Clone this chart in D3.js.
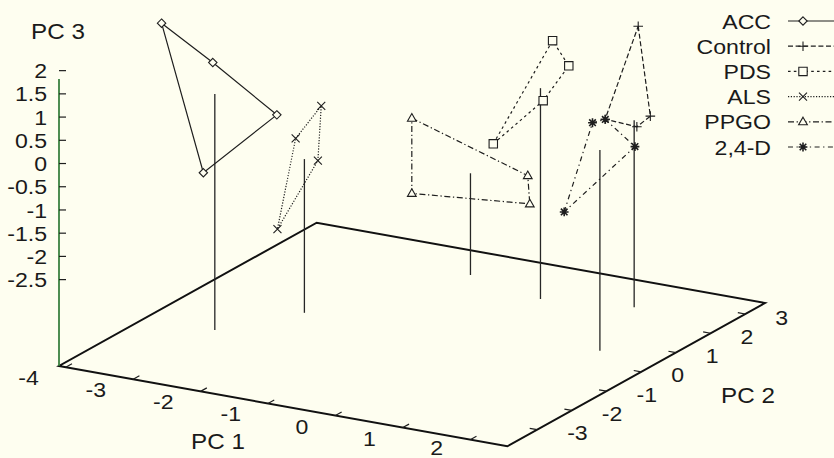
<!DOCTYPE html>
<html>
<head>
<meta charset="utf-8">
<script src="https://cdn.jsdelivr.net/npm/d3@7"></script>
<style>
  html, body { margin: 0; padding: 0; background: #fefef0; }
  svg { display: block; }
  text { font-family: "Liberation Sans", Arial, Helvetica, sans-serif; fill: #1a1a1a; }
</style>
</head>
<body>
<svg id="chart" width="834" height="458"></svg>
<script>
// ---- data: principal component scores (PC1, PC2, PC3) per treatment ----
const seriesNames = ["ACC", "Control", "PDS", "ALS", "PPGO", "2,4-D"];

const accScores     = [[-3.87, -1.35, 2.04], [-3.11, -1.35, 1.39], [-2.16, -1.35, 0.51], [-3.25, -1.35, -1.02]];
const controlScores = [[1.23, 2.48, 1.71], [1.41, 2.48, -0.18], [1.21, 2.48, -0.46], [0.74, 2.48, -0.42]];
const pdsScores     = [[-0.75, 2.15, -1.20], [0.13, 2.15, 1.25], [0.37, 2.15, 0.77], [-0.01, 2.15, -0.08]];
const alsScores     = [[-2.55, -0.05, -0.64], [-2.17, -0.05, 0.16], [-2.22, -0.05, -1.03], [-2.82, -0.05, -2.66]];
const ppgoScores    = [[-2.19, 2.60, -1.21], [-0.47, 2.60, -2.00], [-0.44, 2.60, -2.60], [-2.19, 2.60, -2.83]];
const d24Scores     = [[1.13, 0.54, -1.51], [1.55, 0.54, 0.52], [1.74, 0.54, 0.64], [2.18, 0.54, 0.17]];

// group centres, drawn as impulses down to the base plane
const groupCentres = [[-3.08, -1.35, 0.72], [1.17, 2.48, -0.33], [-0.05, 2.15, 0.18],
                      [-2.42, -0.05, -1.05], [-1.32, 2.60, -2.17], [1.66, 0.54, -0.04]];

const pc1Ticks = [-4, -3, -2, -1, 0, 1, 2];
const pc2Ticks = [-3, -2, -1, 0, 1, 2, 3];
const pc3Ticks = [2, 1.5, 1, 0.5, 0, -0.5, -1, -1.5, -2, -2.5];

const pc1Domain = [-4.1, 2.55];
const pc2Domain = [-3.86, 3.57];
const pc3Domain = [-4.36, 1.82];

// ---- view ----
const svg = d3.select("#chart");
const W = 834, H = 458;
svg.append("rect").attr("width", W).attr("height", H).attr("fill", "#fefef0");

const origin = [59, 366];             // front-left corner of the base
const e1 = [448.3, 80.3];             // screen span of the PC1 axis
const e2 = [257.7, -143.3];           // screen span of the PC2 axis
const zPerUnit = 46.44;

const xS = d3.scaleLinear().domain(pc1Domain).range([0, 1]);
const yS = d3.scaleLinear().domain(pc2Domain).range([0, 1]);
const zS = d3.scaleLinear().domain(pc3Domain)
  .range([0, -(pc3Domain[1] - pc3Domain[0]) * zPerUnit]);

function project(p1, p2, p3) {
  const u = xS(p1), v = yS(p2);
  return [origin[0] + u * e1[0] + v * e2[0],
          origin[1] + u * e1[1] + v * e2[1] + zS(p3)];
}

// text with the slightly wide lettering of the plot's font
const stretch = 1.1;
function label(g, x, y, str, size, anchor, dy) {
  return g.append("text")
    .attr("transform", `translate(${x},${y}) scale(${stretch},1)`)
    .attr("dy", dy == null ? "0.36em" : dy)
    .attr("text-anchor", anchor)
    .attr("font-size", size)
    .text(str);
}

const ink = "#1e1e1e";
const x0 = pc1Domain[0], x1 = pc1Domain[1];
const y0 = pc2Domain[0], y1 = pc2Domain[1];
const zb = pc3Domain[0];

// base frame
const baseCorners = [[x0, y0], [x1, y0], [x1, y1], [x0, y1]].map(c => project(c[0], c[1], zb));
svg.append("path")
  .attr("d", d3.line()(baseCorners) + "Z")
  .attr("fill", "none").attr("stroke", "#111").attr("stroke-width", 2)
  .attr("stroke-linejoin", "miter");

// vertical PC3 axis
const zAxisBottom = project(x0, y0, zb);
const zAxisTop = project(x0, y0, pc3Domain[1]);
svg.append("line")
  .attr("x1", zAxisBottom[0]).attr("y1", zAxisBottom[1])
  .attr("x2", zAxisTop[0]).attr("y2", zAxisTop[1])
  .attr("stroke", "#2f7a36").attr("stroke-width", 1.7);

const zTickG = svg.append("g");
pc3Ticks.forEach(t => {
  const p = project(x0, y0, t);
  zTickG.append("line")
    .attr("x1", p[0]).attr("y1", p[1]).attr("x2", p[0] + 7).attr("y2", p[1])
    .attr("stroke", ink).attr("stroke-width", 1.2);
  label(zTickG, p[0] - 12, p[1], t, 21, "end");
});

// PC1 axis ticks (front-left edge); labels kept inside the bottom edge
const xTickG = svg.append("g");
pc1Ticks.forEach(t => {
  const a = project(t, y0, zb), b = project(t, y0 + 0.18, zb);
  xTickG.append("line")
    .attr("x1", a[0]).attr("y1", a[1]).attr("x2", b[0]).attr("y2", b[1])
    .attr("stroke", ink).attr("stroke-width", 1.2);
  label(xTickG, a[0] - 27, Math.min(a[1] + 10.5, H - 11), t, 21, "end");
});

// PC2 axis ticks (front-right edge)
const yTickG = svg.append("g");
pc2Ticks.forEach(t => {
  const a = project(x1, t, zb), b = project(x1 - 0.11, t, zb);
  yTickG.append("line")
    .attr("x1", a[0]).attr("y1", a[1]).attr("x2", b[0]).attr("y2", b[1])
    .attr("stroke", ink).attr("stroke-width", 1.2);
  label(yTickG, a[0] + 30, a[1] + 3, t, 21, "start");
});

// axis titles
label(svg, 58, 39, "PC 3", 22, "middle", "0");
label(svg, 218, 449, "PC 1", 22, "middle", "0");
label(svg, 748, 403, "PC 2", 22, "middle", "0");

// ---- series ----
const markers = {
  diamond: r => `M0,${-r}L${r},0L0,${r}L${-r},0Z`,
  plus: r => `M${-r},0H${r}M0,${-r}V${r}`,
  square: r => `M${-r},${-r}H${r}V${r}H${-r}Z`,
  cross: r => `M${-r},${-r}L${r},${r}M${-r},${r}L${r},${-r}`,
  triangle: r => `M0,${-r}L${r * 0.95},${r * 0.65}L${-r * 0.95},${r * 0.65}Z`,
  star: r => `M${-r},0H${r}M0,${-r}V${r}M${-r * 0.75},${-r * 0.75}L${r * 0.75},${r * 0.75}M${-r * 0.75},${r * 0.75}L${r * 0.75},${-r * 0.75}`
};
const openMarker = m => m === "diamond" || m === "square" || m === "triangle";

const series = [
  { name: seriesNames[0], pts: accScores,     dash: null,            marker: "diamond",  r: 4.2, sw: 1.1 },
  { name: seriesNames[1], pts: controlScores, dash: "5,2.6",         marker: "plus",     r: 4.8, sw: 1.1 },
  { name: seriesNames[2], pts: pdsScores,     dash: "2.6,3.2",       marker: "square",   r: 4.2, sw: 1.1 },
  { name: seriesNames[3], pts: alsScores,     dash: "1.2,1.6",       marker: "cross",    r: 4.0, sw: 1.1 },
  { name: seriesNames[4], pts: ppgoScores,    dash: "6,2.6,1.3,2.6", marker: "triangle", r: 4.6, sw: 1.1 },
  { name: seriesNames[5], pts: d24Scores,     dash: "5,3.5,1.3,3.5", marker: "star",     r: 4.4, sw: 1.6 }
];

// impulses from each group centre down to the base plane
const impG = svg.append("g");
groupCentres.forEach(c => {
  const top = project(c[0], c[1], c[2]);
  const bot = project(c[0], c[1], zb);
  impG.append("line")
    .attr("x1", top[0]).attr("y1", top[1]).attr("x2", bot[0]).attr("y2", bot[1])
    .attr("stroke", "#262626").attr("stroke-width", 1.3);
});

const lineGen = d3.line();
series.forEach(s => {
  const scr = s.pts.map(p => project(p[0], p[1], p[2]));
  svg.append("path")
    .attr("d", lineGen(scr) + "Z")
    .attr("fill", "none").attr("stroke", ink).attr("stroke-width", 1.2)
    .attr("stroke-dasharray", s.dash);
  svg.append("g").selectAll("path").data(scr).join("path")
    .attr("transform", d => `translate(${d[0]},${d[1]})`)
    .attr("d", markers[s.marker](s.r))
    .attr("fill", openMarker(s.marker) ? "#fefef0" : "none")
    .attr("stroke", ink).attr("stroke-width", s.sw);
});

// ---- legend ----
const legG = svg.append("g");
series.forEach((s, i) => {
  const y = 21 + i * 25.2;
  label(legG, 771, y, s.name, 21, "end");
  legG.append("line")
    .attr("x1", 788).attr("y1", y).attr("x2", 834).attr("y2", y)
    .attr("stroke", ink).attr("stroke-width", 1.2)
    .attr("stroke-dasharray", s.dash);
  legG.append("path")
    .attr("transform", `translate(803,${y})`)
    .attr("d", markers[s.marker](s.r))
    .attr("fill", openMarker(s.marker) ? "#fefef0" : "none")
    .attr("stroke", ink).attr("stroke-width", s.sw);
});
</script>
</body>
</html>
